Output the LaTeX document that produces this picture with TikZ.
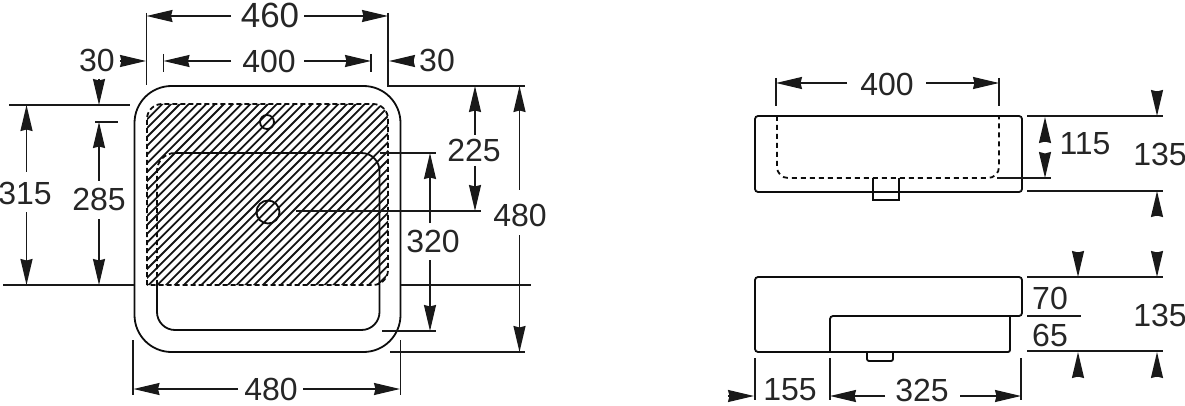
\documentclass[tikz,border=0pt]{standalone}
\usepackage{fontspec}
\setmainfont{Liberation Sans}
\usetikzlibrary{arrows.meta}
\tikzset{
  dimline/.style={line width=1.6pt, black!90},
  dimarrow/.style={dimline, -{Stealth[length=26pt,width=12pt,inset=1.5pt]}},
  outline/.style={line width=1.8pt, black!95},
  hatchline/.style={line width=1.8pt, black!92},
  basinedge/.style={outline, dash pattern=on 5pt off 3pt},
  dimlabel/.style={inner sep=0pt, font=\fontsize{32}{32}\selectfont, text=black!85}
}
\begin{document}
\begin{tikzpicture}[x=1pt,y=-1pt]
	\useasboundingbox (0,0) rectangle (1185,406);
	% top view, hatching first
	\begin{scope}
		\clip[rounded corners=15pt] (147,285) -- (147,104) -- (388,104) -- (388,285) [sharp corners] -- cycle;
		\foreach \hatchx in {-60,-51.2,...,400}
			\draw[hatchline] (\hatchx,300) -- +(210,-210);
	\end{scope}
	\draw[basinedge, rounded corners=15pt] (147,285) -- (147,104) -- (388,104) -- (388,285) [sharp corners] -- cycle;
	\draw[outline, rounded corners=37pt] (134.5,86) rectangle (400.5,352);
	\draw[basinedge, rounded corners=18pt] (157,285) -- (157,153) -- (180,153);
	\draw[outline, rounded corners=18pt] (157,285) -- (157,330) -- (379.5,330) -- (379.5,153) -- (175,153);
	\draw[outline] (267,122) circle (7);
	\draw[outline] (268,212) circle (11.5);

	% top view, widths
	\node[dimlabel, font=\fontsize{35}{35}\selectfont] (w460) at (270,15) {460};
	\node[dimlabel] (w400) at (269,61) {400};
	\node[dimlabel] (m30l) at (97,60) {30};
	\node[dimlabel] (m30r) at (437,60) {30};
	\node[dimlabel] (w480) at (271,389) {480};
	\draw[dimline] (146.5,13) -- (146.5,85);
	\draw[dimline] (388,13) -- (388,87);
	\draw[dimline] (163.5,54) -- (163.5,72);
	\draw[dimline] (371,54) -- (371,72);
	\draw[dimarrow] (231,16) -- (146.5,16);
	\draw[dimarrow] (304,16) -- (388,16);
	\draw[dimarrow] (231,61) -- (163.5,61);
	\draw[dimarrow] (304,61) -- (371,61);
	\draw[dimarrow] (120,61) -- (146,61);
	\draw[dimarrow] (413,61) -- (389,61);
	\draw[dimline] (133,340) -- (133,395);
	\draw[dimline] (400.5,340) -- (400.5,395);
	\draw[dimarrow] (238,389) -- (133.5,389);
	\draw[dimarrow] (303,389) -- (400,389);

	% top view, left heights
	\node[dimlabel] (h315) at (25,193) {315};
	\node[dimlabel] (h285) at (99,199) {285};
	\draw[dimline] (9,105) -- (130,105);
	\draw[dimline] (95,122) -- (118,122);
	\draw[dimline] (3,285) -- (134,285);
	\draw[dimarrow] (99,79) -- (99,105);
	\draw[dimarrow] (26.5,172) -- (26.5,105);
	\draw[dimarrow] (26.5,212) -- (26.5,285);
	\draw[dimarrow] (99,181) -- (99,122);
	\draw[dimarrow] (99,219) -- (99,285);

	% top view, right heights
	\node[dimlabel] (h225) at (474,150) {225};
	\node[dimlabel] (h320) at (433,241) {320};
	\node[dimlabel] (h480) at (520,215) {480};
	\draw[dimline] (388,86) -- (525,86);
	\draw[dimline] (296,211) -- (481,211);
	\draw[dimline] (380,153) -- (436,153);
	\draw[dimline] (382,331) -- (436,331);
	\draw[dimline] (401,285) -- (531,285);
	\draw[dimline] (390,352) -- (525,352);
	\draw[dimarrow] (475,135) -- (475,86);
	\draw[dimarrow] (475,166) -- (475,211);
	\draw[dimarrow] (430,223) -- (430,153);
	\draw[dimarrow] (430,260) -- (430,331);
	\draw[dimarrow] (519.5,190) -- (519.5,86);
	\draw[dimarrow] (519.5,235) -- (519.5,352);

	% front view
	\draw[outline, rounded corners=3pt] (755,116) rectangle (1022,192);
	\draw[basinedge, dash pattern=on 5pt off 4pt, rounded corners=11pt] (777,116) -- (777,178) -- (999,178) -- (999,116);
	\draw[outline] (873,178) -- (873,200) -- (899,200) -- (899,178);
	\node[dimlabel] (f400) at (887,84) {400};
	\node[dimlabel] (f115) at (1085,144) {115};
	\node[dimlabel] (f135) at (1160,154) {135};
	\draw[dimline] (776,78) -- (776,106);
	\draw[dimline] (999,78) -- (999,106);
	\draw[dimarrow] (847,83) -- (776,83);
	\draw[dimarrow] (926,83) -- (999,83);
	\draw[dimline] (1027,116) -- (1163,116);
	\draw[dimline] (1027,191) -- (1163,191);
	\draw[dimline] (997,178) -- (1051,178);
	\draw[dimarrow] (1045,142) -- (1045,117);
	\draw[dimarrow] (1045,154) -- (1045,178);
	\draw[dimarrow] (1157,91) -- (1157,116);
	\draw[dimarrow] (1157,216) -- (1157,191);

	% side view
	\draw[outline, rounded corners=3pt] (830,352) -- (755,352) -- (755,277) -- (1022,277) -- (1022,316) -- (830,316) -- (830,352);
	\draw[outline, rounded corners=2pt] (830,352) -- (1010,352) -- (1010,316);
	\draw[outline, rounded corners=2pt] (867,352) -- (867,361) -- (893,361) -- (893,352);
	\node[dimlabel] (s70) at (1050,298) {70};
	\node[dimlabel] (s65) at (1050,335) {65};
	\node[dimlabel] (s135) at (1160,315) {135};
	\node[dimlabel] (s155) at (790,390) {155};
	\node[dimlabel] (s325) at (922,390) {325};
	\draw[dimline] (1027,277) -- (1163,277);
	\draw[dimline] (1027,316) -- (1081,316);
	\draw[dimline] (1027,351) -- (1163,351);
	\draw[dimarrow] (1078,252) -- (1078,277);
	\draw[dimarrow] (1157,252) -- (1157,277);
	\draw[dimarrow] (1078,377) -- (1078,352);
	\draw[dimarrow] (1157,377) -- (1157,352);
	\draw[dimline] (755,358) -- (755,400);
	\draw[dimline] (830,358) -- (830,400);
	\draw[dimline] (1021,358) -- (1021,400);
	\draw[dimarrow] (728,396) -- (754,396);
	\draw[dimarrow] (885,396) -- (830,396);
	\draw[dimarrow] (960,396) -- (1021,396);
\end{tikzpicture}
\end{document}
